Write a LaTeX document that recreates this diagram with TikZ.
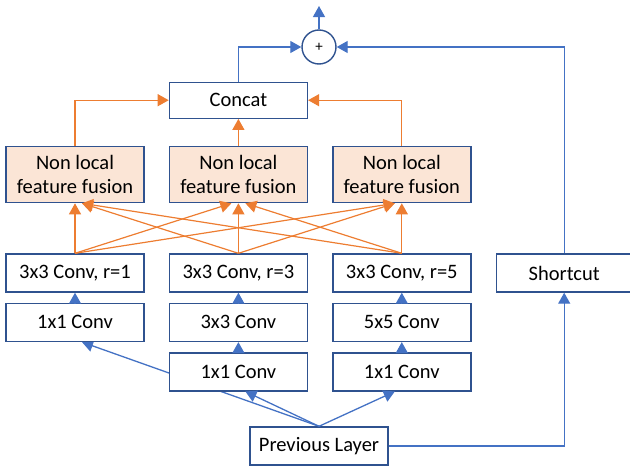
\documentclass[tikz,border=0pt]{standalone}
\usepackage{fontspec}
\setmainfont{Carlito}
\usetikzlibrary{arrows.meta,positioning,backgrounds}

\definecolor{lineblue}{HTML}{4472C4}
\definecolor{boxblue}{HTML}{2F528F}
\definecolor{fuseorange}{HTML}{ED7D31}
\definecolor{fusefill}{HTML}{FBE5D6}

\begin{document}
\begin{tikzpicture}[
    x=1pt, y=-1pt,
    node distance=10pt and 24pt,
    every node/.style={font=\fontsize{20.5pt}{24pt}\selectfont, align=center},
    conv/.style={rectangle, draw=boxblue, line width=1.4pt, fill=white, minimum width=138pt, minimum height=38pt, inner sep=0pt},
    fuse/.style={conv, fill=fusefill, minimum height=56pt},
    sum/.style={circle, draw=boxblue, line width=1.4pt, fill=white, minimum size=34pt, inner sep=0pt, font=\fontsize{15pt}{15pt}\selectfont},
    arrow/.style={-{Triangle[length=11pt,width=12pt]}, draw=lineblue, line width=1.3pt},
    farrow/.style={arrow, draw=fuseorange, line width=1.2pt}
]
    \useasboundingbox (0,0) rectangle (630,466);

    % dilated conv branches
    \node (c1a) [conv] at (75,273) {3x3 Conv, r=1};
    \node (c2a) [conv, right=of c1a] {3x3 Conv, r=3};
    \node (c3a) [conv, right=of c2a] {3x3 Conv, r=5};
    \node (short) [conv, minimum width=136pt, right=of c3a] {Shortcut};
    \node (c1b) [conv, below=of c1a] {1x1 Conv};
    \node (c2b) [conv, below=of c2a] {3x3 Conv};
    \node (c3b) [conv, below=of c3a] {5x5 Conv};
    \node (c2c) [conv, below=of c2b] {1x1 Conv};
    \node (c3c) [conv, below=of c3b] {1x1 Conv};
    \node (prev) [conv] at (319,446) {Previous Layer};

    % fusion and merge
    \node (f1) [fuse, above=50pt of c1a] {Non local\\feature fusion};
    \node (f2) [fuse, above=50pt of c2a] {Non local\\feature fusion};
    \node (f3) [fuse, above=50pt of c3a] {Non local\\feature fusion};
    \node (concat) [conv, minimum height=36pt, above=27pt of f2] {Concat};
    \node (plus) [sum] at (319,47) {+};
    \coordinate (out) at (319,6);

    \draw [arrow] (plus) -- (out);
    \draw [arrow] (concat) |- (plus);
    \draw [arrow] (short) |- (plus);
    \draw [farrow] (f1) |- (concat);
    \draw [farrow] (f3) |- (concat);
    \draw [farrow] (f2) -- (concat);

    \draw [farrow] (c1a.north) -- (f1.south);
    \draw [farrow] (c1a.north) -- ([xshift=-7pt]f2.south);
    \draw [farrow] (c1a.north) -- ([xshift=-7pt]f3.south);
    \draw [farrow] (c2a.north) -- ([xshift=7pt]f1.south);
    \draw [farrow] (c2a.north) -- (f2.south);
    \draw [farrow] (c2a.north) -- ([xshift=-7pt]f3.south);
    \draw [farrow] (c3a.north) -- ([xshift=7pt]f1.south);
    \draw [farrow] (c3a.north) -- ([xshift=7pt]f2.south);
    \draw [farrow] (c3a.north) -- (f3.south);

    \draw [arrow] (c1b) -- (c1a);
    \draw [arrow] (c2b) -- (c2a);
    \draw [arrow] (c3b) -- (c3a);
    \draw [arrow] (c2c) -- (c2b);
    \draw [arrow] (c3c) -- (c3b);
    \draw [arrow] (prev.north) -- ([xshift=7pt]c2c.south);
    \draw [arrow] (prev.north) -- ([xshift=-7pt]c3c.south);
    \draw [arrow] (prev) -| (short);
    % runs behind the middle 1x1 conv
    \begin{scope}[on background layer]
        \draw [arrow] (prev.north) -- ([xshift=7pt]c1b.south);
    \end{scope}
\end{tikzpicture}
\end{document}
